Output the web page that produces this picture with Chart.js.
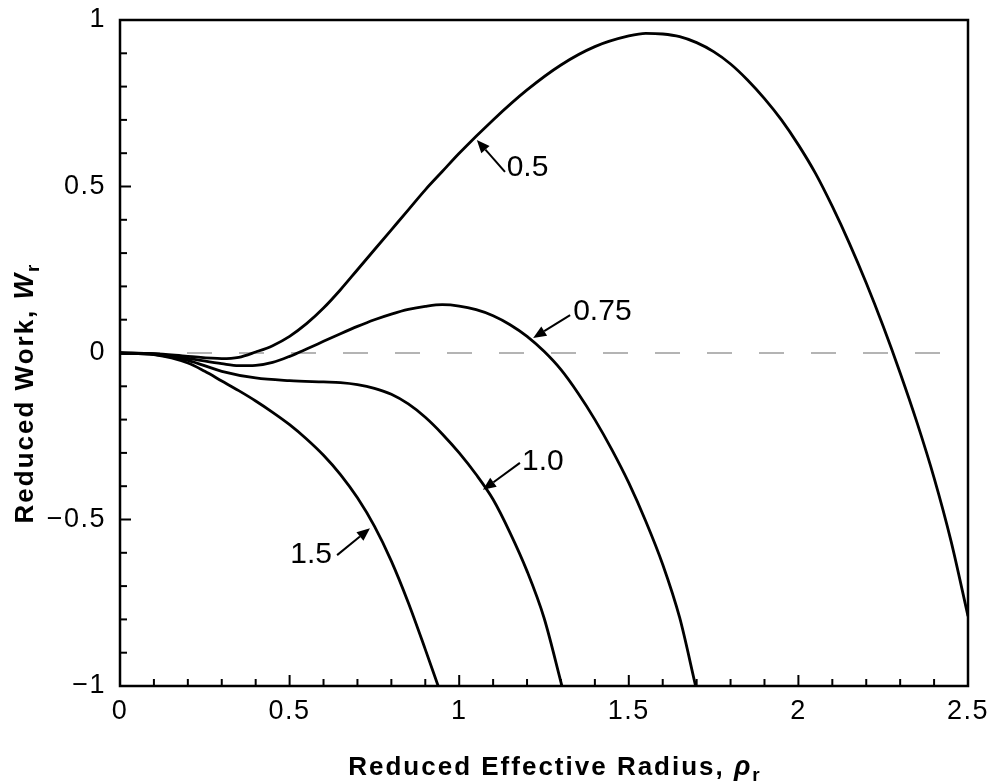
<!DOCTYPE html>
<html>
<head>
<meta charset="utf-8">
<script src="https://cdn.jsdelivr.net/npm/chart.js@4/dist/chart.umd.min.js"></script>
<style>
html, body { margin: 0; padding: 0; background: #fff; }
#wrap { width: 989px; height: 783px; }
</style>
</head>
<body>
<div id="wrap"><canvas id="work" width="989" height="783"></canvas></div>
<script>
// curves, one pair of arrays per curve
var rho_05 = [0, 0.1, 0.2, 0.3, 0.35, 0.4, 0.45, 0.5, 0.55, 0.6, 0.65, 0.7, 0.75, 0.8, 0.85, 0.9, 0.95, 1.0, 1.1, 1.2, 1.3, 1.4, 1.5, 1.55, 1.6, 1.65, 1.7, 1.75, 1.8, 1.85, 1.9, 1.95, 2.0, 2.05, 2.1, 2.15, 2.2, 2.25, 2.3, 2.35, 2.4, 2.45, 2.5];
var w_05 = [0, -0.002, -0.01, -0.017, -0.013, 0.003, 0.022, 0.05, 0.088, 0.135, 0.19, 0.25, 0.31, 0.37, 0.43, 0.49, 0.545, 0.6, 0.7, 0.79, 0.865, 0.92, 0.952, 0.96, 0.958, 0.95, 0.932, 0.905, 0.868, 0.82, 0.764, 0.7, 0.625, 0.54, 0.44, 0.33, 0.21, 0.08, -0.06, -0.21, -0.375, -0.565, -0.79];

var rho_075 = [0, 0.1, 0.2, 0.3, 0.35, 0.4, 0.45, 0.5, 0.55, 0.6, 0.65, 0.7, 0.75, 0.8, 0.85, 0.9, 0.95, 1.0, 1.05, 1.1, 1.15, 1.2, 1.25, 1.3, 1.35, 1.4, 1.45, 1.5, 1.55, 1.6, 1.65, 1.697];
var w_075 = [0, -0.003, -0.016, -0.032, -0.038, -0.037, -0.028, -0.01, 0.012, 0.035, 0.058, 0.08, 0.1, 0.117, 0.131, 0.14, 0.145, 0.141, 0.13, 0.112, 0.085, 0.05, 0.005, -0.05, -0.12, -0.2, -0.29, -0.39, -0.505, -0.635, -0.795, -1.0];

var rho_10 = [0, 0.1, 0.2, 0.3, 0.4, 0.5, 0.6, 0.65, 0.7, 0.75, 0.8, 0.85, 0.9, 0.95, 1.0, 1.05, 1.1, 1.15, 1.2, 1.25, 1.303];
var w_10 = [0, -0.004, -0.022, -0.055, -0.075, -0.083, -0.087, -0.089, -0.095, -0.106, -0.124, -0.153, -0.193, -0.243, -0.3, -0.365, -0.44, -0.54, -0.655, -0.795, -1.0];

var rho_15 = [0, 0.1, 0.2, 0.25, 0.3, 0.35, 0.4, 0.45, 0.5, 0.55, 0.6, 0.65, 0.7, 0.75, 0.8, 0.85, 0.9, 0.938];
var w_15 = [0, -0.005, -0.03, -0.055, -0.084, -0.113, -0.144, -0.178, -0.215, -0.258, -0.307, -0.365, -0.435, -0.52, -0.625, -0.75, -0.89, -1.0];

var curveLabels = ['0.5', '0.75', '1.0', '1.5'];

// arrow callouts, in data units
var callouts = [
  { text: '0.5', tip: [1.052, 0.64], tail: [1.135, 0.544], at: [1.14, 0.556], align: 'left' },
  { text: '0.75', tip: [1.218, 0.045], tail: [1.327, 0.114], at: [1.336, 0.123], align: 'left' },
  { text: '1.0', tip: [1.07, -0.411], tail: [1.179, -0.33], at: [1.185, -0.327], align: 'left' },
  { text: '1.5', tip: [0.737, -0.526], tail: [0.64, -0.607], at: [0.625, -0.607], align: 'right' }
];

function pts(xs, ys) {
  return xs.map(function (x, i) { return { x: x, y: ys[i] }; });
}

function fmt(v) {
  var s = String(Math.round(v * 10) / 10);
  return s.replace('-', '\u2212');
}

var FONT = '"Liberation Sans", Arial, sans-serif';
Chart.defaults.font.family = FONT;
Chart.defaults.color = '#000';

function curve(xs, ys, name) {
  return {
    label: name,
    data: pts(xs, ys),
    borderColor: '#000',
    borderWidth: 2.8,
    pointRadius: 0,
    fill: false,
    cubicInterpolationMode: 'monotone',
    order: 1
  };
}

function richText(ctx, parts, x, y) {
  var total = 0;
  parts.forEach(function (p) { ctx.font = p.font; total += ctx.measureText(p.t).width; });
  var cx = x - total / 2;
  parts.forEach(function (p) {
    ctx.font = p.font;
    ctx.fillText(p.t, cx, y + (p.dy || 0));
    cx += ctx.measureText(p.t).width;
  });
}

var decor = {
  id: 'decor',
  beforeDraw: function (chart) {
    chart.ctx.letterSpacing = '1.5px';
  },
  afterDatasetsDraw: function (chart) {
    var ctx = chart.ctx, a = chart.chartArea;
    var xs = chart.scales.x, ys = chart.scales.y;
    ctx.save();
    ctx.strokeStyle = '#000';
    ctx.lineWidth = 2;
    var i, p, len;
    for (i = 0; i <= 25; i++) {
      p = xs.getPixelForValue(i / 10);
      len = i % 5 === 0 ? 11 : 7;
      ctx.beginPath(); ctx.moveTo(p, a.bottom); ctx.lineTo(p, a.bottom - len); ctx.stroke();
    }
    for (i = -10; i <= 10; i++) {
      p = ys.getPixelForValue(i / 10);
      len = i % 5 === 0 ? 11 : 7;
      ctx.beginPath(); ctx.moveTo(a.left, p); ctx.lineTo(a.left + len, p); ctx.stroke();
    }
    ctx.lineWidth = 2.5;
    ctx.strokeRect(a.left, a.top, a.right - a.left, a.bottom - a.top);

    // callouts
    ctx.lineWidth = 2;
    ctx.fillStyle = '#000';
    callouts.forEach(function (c) {
      var tx = xs.getPixelForValue(c.tip[0]), ty = ys.getPixelForValue(c.tip[1]);
      var lx = xs.getPixelForValue(c.tail[0]), ly = ys.getPixelForValue(c.tail[1]);
      var ang = Math.atan2(ty - ly, tx - lx);
      var hl = 13, hw = 5.5;
      var bx = tx - hl * Math.cos(ang), by = ty - hl * Math.sin(ang);
      ctx.beginPath(); ctx.moveTo(lx, ly); ctx.lineTo(bx, by); ctx.stroke();
      ctx.beginPath();
      ctx.moveTo(tx, ty);
      ctx.lineTo(bx + hw * Math.sin(ang), by - hw * Math.cos(ang));
      ctx.lineTo(bx - hw * Math.sin(ang), by + hw * Math.cos(ang));
      ctx.closePath(); ctx.fill();
      ctx.font = '30px ' + FONT;
      ctx.letterSpacing = '0px';
      ctx.textAlign = c.align;
      ctx.textBaseline = 'middle';
      ctx.fillText(c.text, xs.getPixelForValue(c.at[0]), ys.getPixelForValue(c.at[1]));
    });
    ctx.restore();
  },
  afterDraw: function (chart) {
    var ctx = chart.ctx, a = chart.chartArea;
    ctx.save();
    ctx.fillStyle = '#000';
    ctx.textAlign = 'left';
    ctx.textBaseline = 'alphabetic';
    ctx.letterSpacing = '2px';
    var b = 'bold 26px ' + FONT, bi = 'italic bold 27px ' + FONT, sub = 'bold 19px ' + FONT;
    richText(ctx, [
      { t: 'Reduced Effective Radius, ', font: b },
      { t: '\u03c1', font: bi },
      { t: 'r', font: sub, dy: 6 }
    ], (a.left + a.right) / 2 + 11, 775);
    ctx.translate(33, 393);
    ctx.rotate(-Math.PI / 2);
    richText(ctx, [
      { t: 'Reduced Work, ', font: b },
      { t: 'W', font: bi },
      { t: 'r', font: sub, dy: 6 }
    ], 0, 0);
    ctx.restore();
    chart.ctx.letterSpacing = '0px';
  }
};

new Chart(document.getElementById('work').getContext('2d'), {
  type: 'line',
  data: {
    datasets: [
      {
        label: 'zero',
        data: [{ x: 0, y: 0 }, { x: 2.5, y: 0 }],
        borderColor: '#b4b4b4',
        borderWidth: 2,
        borderDash: [25, 27],
        borderDashOffset: 37,
        pointRadius: 0,
        order: 10
      },
      curve(rho_05, w_05, curveLabels[0]),
      curve(rho_075, w_075, curveLabels[1]),
      curve(rho_10, w_10, curveLabels[2]),
      curve(rho_15, w_15, curveLabels[3])
    ]
  },
  options: {
    responsive: false,
    animation: false,
    layout: { padding: { top: 20, right: 21, left: 0, bottom: 0 } },
    plugins: { legend: { display: false }, tooltip: { enabled: false } },
    scales: {
      x: {
        type: 'linear',
        min: 0,
        max: 2.5,
        grid: { display: false, drawTicks: false },
        border: { display: false },
        ticks: { stepSize: 0.5, padding: 9, font: { size: 27 }, callback: fmt },
        afterFit: function (s) { s.height = 97; s.paddingLeft = 0; s.paddingRight = 0; }
      },
      y: {
        min: -1,
        max: 1,
        grid: { display: false, drawTicks: false },
        border: { display: false },
        ticks: { stepSize: 0.5, padding: 14, font: { size: 27 }, callback: fmt },
        afterFit: function (s) { s.width = 120; s.paddingTop = 0; s.paddingBottom = 0; }
      }
    }
  },
  plugins: [decor]
});
</script>
</body>
</html>
